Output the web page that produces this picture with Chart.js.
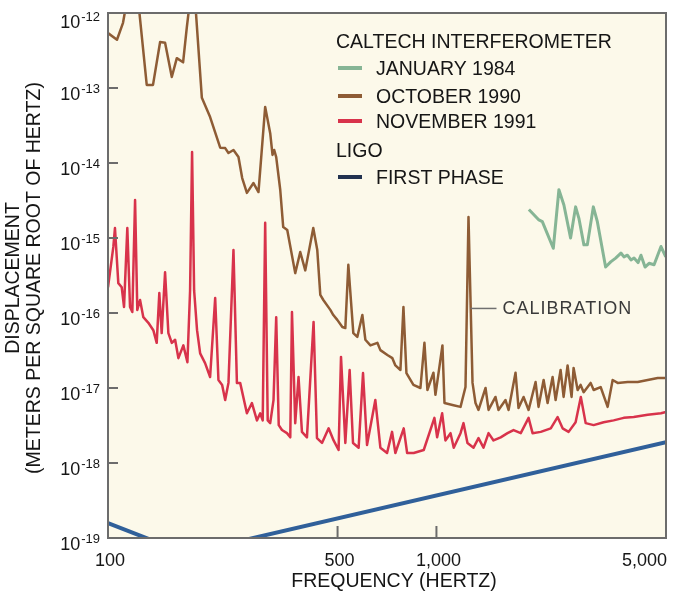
<!DOCTYPE html>
<html><head><meta charset="utf-8">
<script src="https://cdn.jsdelivr.net/npm/chart.js@4.4.1/dist/chart.umd.min.js"></script>
<style>html,body{margin:0;padding:0;background:#fff;}canvas{display:block}</style>
</head><body>
<canvas id="c" width="678" height="593"></canvas>
<script>
// ---- data (frequency in Hz, displacement in m/sqrt(Hz)) ----
const oct1990Freq = [100,106.5,111.1,114.3,123.5,131.2,137.1,144.1,149.2,156.4,162,169.3,173.8,177.8,184.1,193.1,204.6,219.6,227.4,232.7,241,249.6,256.2,264.8,277.3,287.2,301,311.8,316.9,320.7,325.2,334.5,341.6,351.4,371.6,384.9,398.7,421.7,433.7,443,452.5,475.3,485.3,499,517,528,539.2,558.4,574.2,594.9,607.6,629.6,660.9,675,708.9,734.3,749.9,776.9,793.5,810.3,851,893.8,919.3,938.8,979.2,993.1,1043,1058,1127,1184,1226,1252,1288,1315,1343,1411,1441,1513,1545,1623,1658,1741,1778,1842,1908,2004,2046,2120,2180,2258,2306,2388,2439,2508,2579,2616,2691,2748,2807,2948,3011,3162,3321,3440,3563,3822,4101,4398,4719,5000];
const oct1990Disp = [5.4e-13,4.4e-13,7.4e-13,1.5e-12,1.5e-12,1.1e-13,1.1e-13,4.1e-13,4.0e-13,1.4e-13,2.5e-13,2.2e-13,6.5e-13,1.5e-12,1.5e-12,7.4e-14,4.1e-14,1.6e-14,1.58e-14,1.36e-14,1.49e-14,1.2e-14,6.3e-15,4.0e-15,5.4e-15,4.1e-15,5.6e-14,2.5e-14,1.28e-14,1.49e-14,1.2e-14,4.4e-15,1.4e-15,1.28e-15,3.4e-16,6.5e-16,3.7e-16,1.36e-15,6.9e-16,1.74e-16,1.49e-16,1.1e-16,9.4e-17,8.1e-17,6.5e-17,6.3e-17,4.4e-16,5.4e-17,4.8e-17,9.4e-17,4.4e-17,3.7e-17,4.0e-17,3.2e-17,2.75e-17,2.5e-17,2.0e-17,1.74e-17,1.2e-16,1.58e-17,1.1e-17,1.0e-17,4.0e-17,9.4e-18,1.6e-17,8.1e-18,3.7e-17,6.3e-18,5.9e-18,5.6e-18,1.03e-17,1.9e-15,1.17e-17,6.3e-18,5.1e-18,1.0e-17,5.1e-18,7.6e-18,5.1e-18,6.9e-18,5.1e-18,1.6e-17,5.4e-18,7.6e-18,5.1e-18,1.2e-17,5.6e-18,1.28e-17,6.3e-18,1.4e-17,6.9e-18,1.74e-17,7.6e-18,2.0e-17,7.6e-18,1.85e-17,9.4e-18,1.1e-17,8.8e-18,1.17e-17,9.4e-18,1.03e-17,5.6e-18,1.28e-17,1.17e-17,1.2e-17,1.2e-17,1.28e-17,1.36e-17,1.36e-17];

const nov1991Freq = [100,103.8,105,107.5,110.1,111.9,114.5,116.7,118.6,120.9,122.8,125.2,128.1,132.7,137.4,140.7,143.3,145.7,149.2,152.7,156.4,160.1,163.8,169.6,174.5,177.8,180.3,182.9,186.7,190.8,197.5,204.6,212,216.9,222.6,227.4,232.7,241,246.9,252.6,264.8,274.3,284.1,290.7,295.8,301,306.4,311.8,319.1,325.2,331,338.6,350.6,358.9,363.2,371.6,380.3,389.5,403.4,422.6,432.8,448.3,469.6,486.3,503.6,512.2,528,544.2,557.2,579.6,597.7,614.7,651.6,675,707.5,732.7,749.9,795.1,814.3,852.7,914.9,986,1005,1041,1065,1104,1129,1184,1209,1243,1297,1343,1391,1441,1492,1569,1646,1717,1806,1908,1962,2078,2229,2338,2422,2526,2653,2752,2847,3011,3229,3464,3717,3987,4398,4828,5000];
const nov1991Disp = [2.2e-16,7.6e-16,1.36e-15,2.5e-16,2.2e-16,1.2e-16,1.36e-15,1.2e-16,1.03e-16,3.2e-15,1.1e-16,1.49e-16,8.8e-17,7.4e-17,5.9e-17,4.0e-17,1.85e-16,5.4e-17,3.5e-16,5.4e-17,4.0e-17,4.4e-17,2.5e-17,3.7e-17,2.2e-17,2.0e-16,1.4e-14,2.0e-16,5.9e-17,2.9e-17,2.15e-17,1.4e-17,1.58e-16,1.28e-17,1.1e-17,6.9e-18,1.17e-17,6.9e-16,1.17e-17,1.17e-17,4.6e-18,6.3e-18,3.7e-18,4.6e-18,3.7e-18,1.6e-15,3.7e-18,3.4e-18,6.9e-18,8.8e-17,3.2e-18,2.75e-18,2.5e-18,2.2e-18,1.03e-16,3.4e-18,1.4e-17,2.6e-18,2.2e-18,7.6e-17,2.15e-18,1.85e-18,2.9e-18,2.0e-18,1.49e-18,2.6e-17,1.85e-18,1.74e-17,1.85e-18,1.6e-18,1.58e-17,1.74e-18,6.9e-18,1.6e-18,1.36e-18,2.6e-18,1.36e-18,2.9e-18,1.36e-18,1.36e-18,1.49e-18,4.0e-18,2.2e-18,4.6e-18,2.0e-18,2.5e-18,1.6e-18,2.5e-18,3.4e-18,1.85e-18,1.6e-18,2.15e-18,1.6e-18,2.5e-18,2.0e-18,2.2e-18,2.5e-18,2.75e-18,2.5e-18,4.0e-18,2.5e-18,2.6e-18,2.9e-18,4.1e-18,2.9e-18,2.6e-18,3.5e-18,7.6e-18,3.4e-18,3.2e-18,3.5e-18,3.7e-18,4.0e-18,4.1e-18,4.4e-18,4.6e-18,4.8e-18];

const jan1984Freq = [1912,2051,2101,2269,2360,2444,2561,2653,2715,2812,2880,3004,3090,3274,3393,3513,3645,3724,3814,3911,3996,4110,4195,4317,4440,4599,4828,4992];
const jan1984Disp = [2.4e-15,1.74e-15,1.65e-15,7.3e-16,4.4e-15,2.75e-15,1.0e-15,2.6e-15,1.83e-15,8.1e-16,8.1e-16,2.6e-15,1.65e-15,4.1e-16,4.8e-16,5.4e-16,6.3e-16,5.6e-16,5.9e-16,5.1e-16,5.4e-16,4.7e-16,5.9e-16,4.1e-16,4.6e-16,4.4e-16,7.7e-16,5.6e-16];

const ligoFreq = [100,173,5000];
const ligoDisp = [1.58e-19,6.2e-20,1.9e-18];

const xTickValues = [100,500,1000,5000];
const xTickLabels = ['100','500','1,000','5,000'];
const yTickValues = [1e-12,1e-13,1e-14,1e-15,1e-16,1e-17,1e-18,1e-19];
const yTickExponents = ['-12','-13','-14','-15','-16','-17','-18','-19'];

const legendGroups = ['CALTECH INTERFEROMETER','LIGO'];
const seriesNames = ['JANUARY 1984','OCTOBER 1990','NOVEMBER 1991','FIRST PHASE'];
const calibrationFreq = 1252;
const calibrationLabelValue = 1.15e-16;

// ---- styles ----
const FONT = '"Liberation Sans", Arial, Helvetica, sans-serif';
const C_GREEN = '#86b595', C_BROWN = '#8e5c35', C_RED = '#d8334b', C_BLUE = '#30609a', C_NAVY = '#22324f';
const TEXT = '#161616';

function pts(f, v) { return f.map((x, i) => ({ x: x, y: v[i] })); }

const deco = {
  id: 'deco',
  beforeDraw(chart) {
    const { ctx, chartArea: a } = chart;
    ctx.save();
    ctx.fillStyle = '#ffffff';
    ctx.fillRect(0, 0, chart.width, chart.height);
    ctx.fillStyle = '#fcf9ea';
    ctx.fillRect(a.left, a.top, a.right - a.left, a.bottom - a.top);
    ctx.restore();
  },
  afterDatasetsDraw(chart) {
    const { ctx, chartArea: a } = chart;
    const xs = chart.scales.x, ys = chart.scales.y;
    ctx.save();
    // frame
    ctx.strokeStyle = '#6c6c6c';
    ctx.lineWidth = 2;
    ctx.strokeRect(a.left, a.top, a.right - a.left, a.bottom - a.top);

    // y ticks + labels
    ctx.fillStyle = TEXT;
    ctx.textBaseline = 'middle';
    yTickValues.forEach((v, i) => {
      const y = ys.getPixelForValue(v);
      if (i > 0 && i < yTickValues.length - 1) {
        ctx.beginPath(); ctx.moveTo(a.left, y); ctx.lineTo(a.left + 10, y); ctx.stroke();
      }
      const shift = i === 0 ? 3 : 0;
      ctx.font = '13px ' + FONT;
      ctx.textAlign = 'right';
      const ew = ctx.measureText(yTickExponents[i]).width;
      ctx.fillText(yTickExponents[i], 100, y + 1 + shift);
      ctx.font = '18px ' + FONT;
      ctx.fillText('10', 100 - ew - 1, y + 7 + shift);
    });

    // x ticks + labels
    ctx.font = '18px ' + FONT;
    xTickValues.forEach((v, i) => {
      const x = xs.getPixelForValue(v);
      if (i > 0 && i < xTickValues.length - 1) {
        ctx.beginPath(); ctx.moveTo(x, a.bottom); ctx.lineTo(x, a.bottom - 12); ctx.stroke();
      }
      ctx.textAlign = i === xTickValues.length - 1 ? 'right' : 'center';
      ctx.fillText(xTickLabels[i], i === xTickValues.length - 1 ? a.right + 1 : x + 2, 561);
    });

    // axis titles
    ctx.font = '19.5px ' + FONT;
    ctx.textAlign = 'center';
    ctx.fillText('FREQUENCY (HERTZ)', 394, 582);
    ctx.save();
    ctx.translate(14, 278); ctx.rotate(-Math.PI / 2);
    ctx.fillText('DISPLACEMENT', 0, 0);
    ctx.restore();
    ctx.save();
    ctx.translate(35, 278); ctx.rotate(-Math.PI / 2);
    ctx.fillText('(METERS PER SQUARE ROOT OF HERTZ)', 0, 0);
    ctx.restore();

    // legend
    ctx.textAlign = 'left';
    ctx.textBaseline = 'alphabetic';
    ctx.font = '19.5px ' + FONT;
    ctx.fillText(legendGroups[0], 336, 48);
    ctx.fillText(legendGroups[1], 336, 157);
    const rows = [
      { name: seriesNames[0], color: C_GREEN, base: 75 },
      { name: seriesNames[1], color: C_BROWN, base: 103 },
      { name: seriesNames[2], color: C_RED, base: 128 },
      { name: seriesNames[3], color: C_NAVY, base: 184 }
    ];
    rows.forEach(r => {
      ctx.strokeStyle = r.color; ctx.lineWidth = 4;
      ctx.beginPath(); ctx.moveTo(338, r.base - 7); ctx.lineTo(362, r.base - 7); ctx.stroke();
      ctx.fillText(r.name, 376, r.base);
    });

    // calibration annotation
    const cx = xs.getPixelForValue(calibrationFreq);
    const cy = ys.getPixelForValue(calibrationLabelValue);
    ctx.strokeStyle = '#707070'; ctx.lineWidth = 1.5;
    ctx.beginPath(); ctx.moveTo(cx + 2, cy); ctx.lineTo(cx + 28, cy); ctx.stroke();
    ctx.font = '18px ' + FONT;
    if ('letterSpacing' in ctx) ctx.letterSpacing = '1px';
    ctx.fillStyle = '#3a3a3a';
    ctx.textBaseline = 'middle';
    ctx.fillText('CALIBRATION', cx + 34, cy + 1);
    ctx.restore();
  }
};

new Chart(document.getElementById('c'), {
  type: 'line',
  data: {
    datasets: [
      { label: 'LIGO FIRST PHASE', data: pts(ligoFreq, ligoDisp), borderColor: C_BLUE, borderWidth: 4, clip: 0 },
      { label: 'JANUARY 1984', data: pts(jan1984Freq, jan1984Disp), borderColor: C_GREEN, borderWidth: 3, clip: 0 },
      { label: 'OCTOBER 1990', data: pts(oct1990Freq, oct1990Disp), borderColor: C_BROWN, borderWidth: 2.5, clip: 0 },
      { label: 'NOVEMBER 1991', data: pts(nov1991Freq, nov1991Disp), borderColor: C_RED, borderWidth: 2.5, clip: 0 }
    ]
  },
  options: {
    responsive: false,
    animation: false,
    devicePixelRatio: 1,
    layout: { padding: { left: 108, right: 12, top: 13, bottom: 55 } },
    elements: { point: { radius: 0 }, line: { tension: 0, borderJoinStyle: 'round', fill: false } },
    plugins: { legend: { display: false }, tooltip: { enabled: false } },
    scales: {
      x: { type: 'logarithmic', min: 100, max: 5000, display: false },
      y: { type: 'logarithmic', min: 1e-19, max: 1e-12, display: false }
    }
  },
  plugins: [deco]
});
</script>
</body></html>
